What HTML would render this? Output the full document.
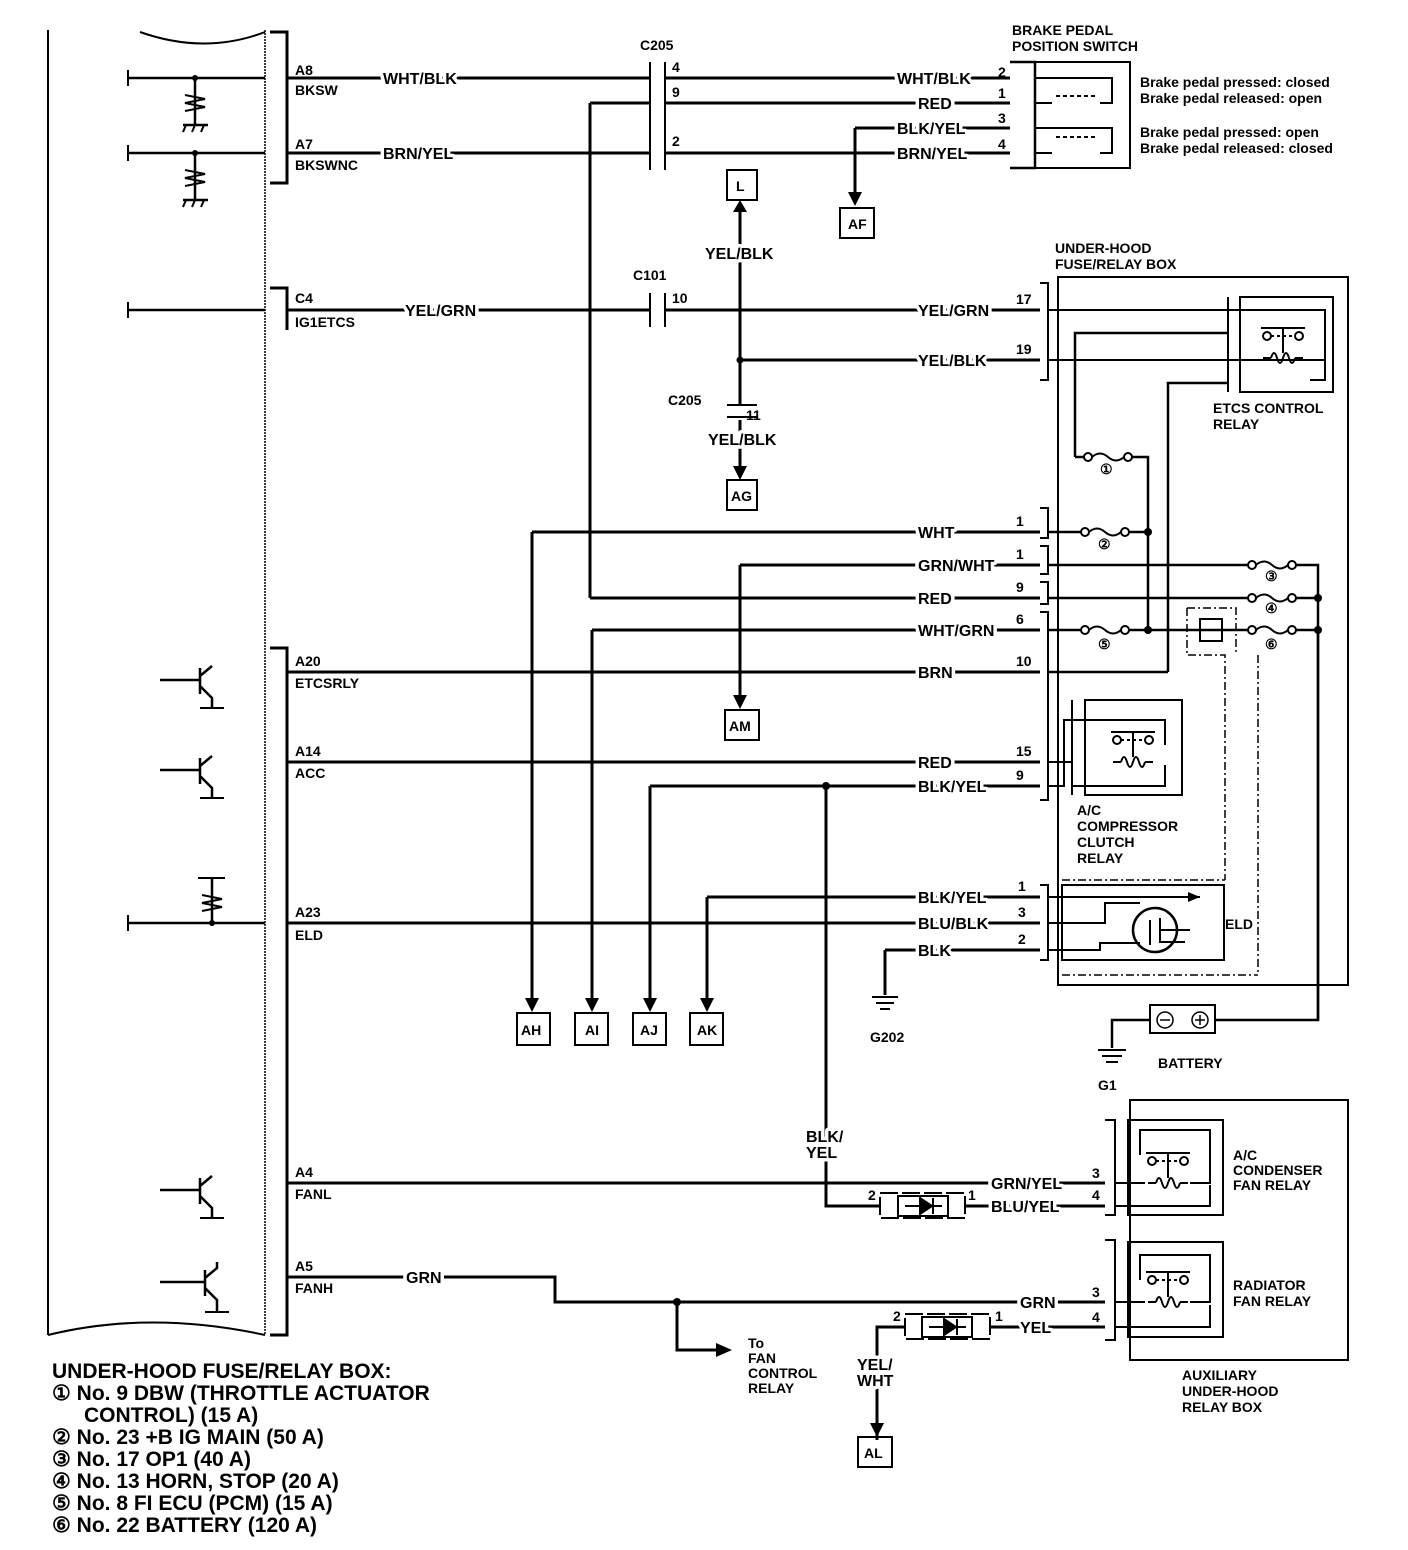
<!DOCTYPE html>
<html><head><meta charset="utf-8"><style>
html,body{margin:0;padding:0;background:#fff;}
svg{display:block;}
text{font-family:"Liberation Sans",sans-serif;font-weight:bold;fill:#000;}
.t{font-size:14px;}
.w text{font-size:16px;paint-order:stroke;stroke:#fff;stroke-width:7px;stroke-linejoin:round;}
.s{font-size:14px;}
.l{font-size:21px;}
</style></head><body>
<svg width="1408" height="1550" viewBox="0 0 1408 1550" xmlns="http://www.w3.org/2000/svg">
<defs>
<g id="fuse" fill="none" stroke="#000" stroke-width="2"><circle cx="0" cy="0" r="4" fill="#fff"/><circle cx="40" cy="0" r="4" fill="#fff"/><path d="M4 0 Q12 -7 20 0 Q28 7 36 0"/></g>
<g id="relay" fill="none" stroke="#000" stroke-width="2"><path d="M-22 -30 H22 M0 -30 V-5"/><circle cx="-16" cy="-22" r="4" fill="#fff"/><circle cx="16" cy="-22" r="4" fill="#fff"/><path d="M-12 -22 H12" stroke-dasharray="3 3"/><path d="M-20 0 H-12 M12 0 H20"/><path d="M-12 0 q3 -10 6 0 q3 10 6 0 q3 -10 6 0 q3 10 6 0"/></g>
</defs>
<g fill="none" stroke="#000" stroke-width="3">
<path d="M48 30 L48 1335" stroke-width="2"/>
<path d="M265 30 L265 1335" stroke-width="1.5" stroke-dasharray="2 1"/>
<path d="M140 32 Q205 55 265 32" stroke-width="2"/>
<path d="M48 1335 Q150 1310 265 1335" stroke-width="2"/>
<path d="M270 32 H287 V183 H270"/>
<path d="M270 288 H287 V330"/>
<path d="M270 648 H287 V1335 H270"/>
<path d="M128 78 H265 M128 153 H265 M128 310 H265" stroke-width="2.5"/>
<path d="M128 70 V86 M128 145 V161 M128 302 V318 M128 915 V931" stroke-width="2"/>
<path d="M195 78 V125 M195 153 V200" stroke-width="2.5"/>
<path d="M185 95 L205 99 L185 103 L205 107 L185 111 M185 170 L205 174 L185 178 L205 182 L185 186" stroke-width="2"/>
<path d="M183 125 H208 M183 200 H208" stroke-width="2.5"/>
<path d="M186 125 l-3 7 M195 125 l-3 7 M204 125 l-3 7 M186 200 l-3 7 M195 200 l-3 7 M204 200 l-3 7" stroke-width="2"/>
<path d="M160 680 H200 M200 668 V694 M200 676 L212 666 M200 686 L212 698 V708" stroke-width="2.5"/>
<path d="M160 770 H200 M200 758 V784 M200 766 L212 756 M200 776 L212 788 V798" stroke-width="2.5"/>
<path d="M160 1190 H200 M200 1178 V1204 M200 1186 L212 1176 M200 1196 L212 1208 V1218" stroke-width="2.5"/>
<path d="M160 1282 H205 M205 1270 V1296 M205 1278 L217 1268 V1262 M205 1288 L217 1300 V1312" stroke-width="2.5"/>
<path d="M200 708 H224 M200 798 H224 M200 1218 H224 M205 1312 H229" stroke-width="2"/>
<path d="M128 923 H265 M212 878 V923" stroke-width="2.5"/>
<path d="M198 878 H225 M202 895 L222 899 L202 903 L222 907 L202 911" stroke-width="2"/>
<path d="M287 78 H650 M665 78 H1010"/>
<path d="M590 103 H650 M665 103 H1010"/>
<path d="M287 153 H650 M665 153 H1010"/>
<path d="M855 128 H1010 M855 128 V200"/>
<path d="M590 103 V598"/>
<path d="M650 62 V170 M665 62 V170" stroke-width="2"/>
<path d="M287 310 H650 M665 310 H1040"/>
<path d="M650 293 V327 M665 293 V327" stroke-width="2"/>
<path d="M740 212 V405 M740 360 H1040"/>
<path d="M727 405 H757 M727 417 H757" stroke-width="2"/>
<path d="M740 420 V472"/>
<path d="M532 532 H1040 M532 532 V1002"/>
<path d="M740 565 H1040 M740 565 V700"/>
<path d="M590 598 H1040"/>
<path d="M592 630 H1040 M592 630 V1002"/>
<path d="M287 672 H1040"/>
<path d="M287 762 H1040"/>
<path d="M650 786 H1040 M650 786 V1002"/>
<path d="M826 786 V1206 H880 M965 1206 H1105"/>
<path d="M707 897 H1040 M707 897 V1002"/>
<path d="M287 923 H1040"/>
<path d="M885 950 H1040 M885 950 V995"/>
<path d="M287 1183 H1105"/>
<path d="M287 1277 H555 V1302 H1105"/>
<path d="M677 1302 V1350 H718"/>
<path d="M877 1440 V1327 H905 M990 1327 H1105"/>
<path d="M872 997 H898 M876 1003 H894 M880 1009 H890" stroke-width="2"/>
<path d="M1098 1050 H1126 M1102 1056 H1122 M1106 1062 H1118" stroke-width="2"/>
<path d="M1112 1048 V1020 H1150 M1215 1020 H1318 V628" stroke-width="2.5"/>
<path d="M1010 62 H1035 V168 H1010" stroke-width="2.5"/>
<path d="M1035 62 H1130 V168 H1035" stroke-width="2"/>
<path d="M1035 78 H1112 V103 H1100 M1035 103 H1052" stroke-width="2"/>
<path d="M1035 128 H1112 V153 H1100 M1035 153 H1052" stroke-width="2"/>
<path d="M1056 96 H1096 M1056 137 H1096" stroke-width="2" stroke-dasharray="4 3"/>
<rect x="727" y="170" width="30" height="30" stroke-width="2"/>
<rect x="840" y="208" width="34" height="30" stroke-width="2"/>
<rect x="727" y="480" width="30" height="30" stroke-width="2"/>
<rect x="725" y="710" width="34" height="30" stroke-width="2"/>
<rect x="517" y="1013" width="33" height="32" stroke-width="2"/>
<rect x="575" y="1013" width="33" height="32" stroke-width="2"/>
<rect x="633" y="1013" width="33" height="32" stroke-width="2"/>
<rect x="690" y="1013" width="33" height="32" stroke-width="2"/>
<rect x="858" y="1437" width="34" height="30" stroke-width="2"/>
<rect x="1058" y="277" width="290" height="708" stroke-width="2"/>
<path d="M1040 283 H1048 V380 H1040 M1040 508 H1048 V538 H1040 M1040 546 H1048 V574 H1040 M1040 582 H1048 V604 H1040 M1040 612 H1048 V800 H1040 M1040 885 H1048 V960 H1040" stroke-width="2"/>
<path d="M1048 310 H1325 V380 H1310 M1048 360 H1325" stroke-width="2"/>
<rect x="1240" y="297" width="93" height="95" stroke-width="2"/>
<path d="M1228 297 V392" stroke-width="2"/>
<path d="M1075 457 V333 H1228 M1075 457 H1090 M1130 457 H1148 V630" stroke-width="2.5"/>
<path d="M1168 672 H1048 M1168 672 V383 H1228" stroke-width="2.5"/>
<path d="M1048 532 H1085 M1125 532 H1148" stroke-width="2.5"/>
<path d="M1048 565 H1250 M1290 565 H1318 V1020" stroke-width="2.5"/>
<path d="M1048 598 H1250 M1290 598 H1318" stroke-width="2.5"/>
<path d="M1048 630 H1085 M1125 630 H1250 M1290 630 H1318" stroke-width="2.5"/>
<rect x="1200" y="619" width="22" height="22" stroke-width="2"/>
<path d="M1187 608 H1236 V655 M1187 608 V655 H1225 V880 M1258 655 V975" stroke-width="1.5" stroke-dasharray="8 3 2 3"/>
<path d="M1062 880 H1225 M1062 975 H1258" stroke-width="1.5" stroke-dasharray="8 3 2 3"/>
<rect x="1085" y="700" width="97" height="95" stroke-width="2"/>
<path d="M1072 700 V795" stroke-width="2"/>
<path d="M1048 762 H1072 M1048 786 H1064 V720 H1165 V745 M1072 786 H1165 V765" stroke-width="2"/>
<rect x="1062" y="885" width="162" height="75" stroke-width="2"/>
<path d="M1048 897 H1200 M1048 923 H1105 V903 H1140 M1048 950 H1100 V943 H1140" stroke-width="2"/>
<circle cx="1155" cy="930" r="22" stroke-width="2.5"/>
<path d="M1150 920 V945 M1160 918 V942 H1185 M1160 930 H1190" stroke-width="2"/>
<rect x="1150" y="1005" width="65" height="28" stroke-width="2"/>
<circle cx="1165" cy="1020" r="8" stroke-width="1.5"/>
<circle cx="1200" cy="1020" r="8" stroke-width="1.5"/>
<path d="M1160 1020 H1170 M1195 1020 H1205 M1200 1015 V1025" stroke-width="1.5"/>
<path d="M1130 1100 H1348 V1360 H1130 Z" stroke-width="2"/>
<path d="M1105 1120 H1115 V1215 H1105 M1105 1240 H1115 V1340 H1105" stroke-width="2"/>
<rect x="1128" y="1120" width="95" height="95" stroke-width="2"/>
<rect x="1128" y="1242" width="95" height="95" stroke-width="2"/>
<path d="M1115 1183 H1145 M1190 1183 H1210 V1130 H1140 V1155 M1115 1206 H1210 V1185" stroke-width="2"/>
<path d="M1115 1302 H1145 M1190 1302 H1210 V1255 H1140 V1280 M1115 1327 H1210 V1305" stroke-width="2"/>
<rect x="880" y="1193" width="85" height="25" stroke-width="2" stroke-dasharray="18 4"/>
<rect x="898" y="1196" width="50" height="20" stroke-width="2"/>
<path d="M905 1206 H942 M920 1198 V1214 L932 1206 Z M933 1198 V1214" stroke-width="2" fill="#000"/>
<rect x="905" y="1314" width="85" height="25" stroke-width="2" stroke-dasharray="18 4"/>
<rect x="922" y="1317" width="50" height="20" stroke-width="2"/>
<path d="M929 1327 H966 M944 1319 V1335 L956 1327 Z M957 1319 V1335" stroke-width="2" fill="#000"/>
</g>
<use href="#fuse" x="1088" y="457"/>
<use href="#fuse" x="1085" y="532"/>
<use href="#fuse" x="1085" y="630"/>
<use href="#fuse" x="1252" y="565"/>
<use href="#fuse" x="1252" y="598"/>
<use href="#fuse" x="1252" y="630"/>
<use href="#relay" x="1283" y="358"/>
<use href="#relay" x="1133" y="762"/>
<use href="#relay" x="1168" y="1183"/>
<use href="#relay" x="1168" y="1302"/>
<g fill="#000">
<path d="M733 212 L747 212 L740 200 Z"/>
<path d="M848 192 L862 192 L855 206 Z"/>
<path d="M733 466 L747 466 L740 480 Z"/>
<path d="M733 695 L747 695 L740 709 Z"/>
<path d="M525 998 L539 998 L532 1012 Z"/>
<path d="M585 998 L599 998 L592 1012 Z"/>
<path d="M643 998 L657 998 L650 1012 Z"/>
<path d="M700 998 L714 998 L707 1012 Z"/>
<path d="M870 1423 L884 1423 L877 1437 Z"/>
<path d="M716 1343 L716 1357 L732 1350 Z"/>
<path d="M1188 892 L1200 897 L1188 902 Z"/>
<circle cx="740" cy="360" r="3.5"/><circle cx="826" cy="786" r="4"/><circle cx="677" cy="1302" r="4"/>
<circle cx="1148" cy="532" r="4"/><circle cx="1148" cy="630" r="4"/><circle cx="1318" cy="598" r="4"/><circle cx="1318" cy="630" r="4"/>
<circle cx="195" cy="78" r="3"/><circle cx="195" cy="153" r="3"/><circle cx="212" cy="923" r="3"/>
</g>
<g class="t">
<text x="295" y="75">A8</text><text x="295" y="95">BKSW</text>
<text x="295" y="149">A7</text><text x="295" y="170">BKSWNC</text>
<text x="295" y="303">C4</text><text x="295" y="327">IG1ETCS</text>
<text x="295" y="666">A20</text><text x="295" y="688">ETCSRLY</text>
<text x="295" y="756">A14</text><text x="295" y="778">ACC</text>
<text x="295" y="917">A23</text><text x="295" y="940">ELD</text>
<text x="295" y="1177">A4</text><text x="295" y="1199">FANL</text>
<text x="295" y="1271">A5</text><text x="295" y="1293">FANH</text>
<text x="640" y="50">C205</text>
<text x="633" y="280">C101</text>
<text x="668" y="405">C205</text>
<text x="672" y="72">4</text><text x="672" y="97">9</text><text x="672" y="146">2</text>
<text x="672" y="303">10</text><text x="746" y="420">11</text>
<text x="998" y="77">2</text><text x="998" y="98">1</text><text x="998" y="123">3</text><text x="998" y="149">4</text>
<text x="1012" y="35">BRAKE PEDAL</text><text x="1012" y="51">POSITION SWITCH</text>
<text x="1016" y="304">17</text><text x="1016" y="354">19</text>
<text x="1055" y="253">UNDER-HOOD</text><text x="1055" y="269">FUSE/RELAY BOX</text>
<text x="1213" y="413">ETCS CONTROL</text><text x="1213" y="429">RELAY</text>
<text x="1016" y="526">1</text><text x="1016" y="559">1</text><text x="1016" y="592">9</text><text x="1016" y="624">6</text>
<text x="1016" y="666">10</text><text x="1016" y="756">15</text><text x="1016" y="780">9</text>
<text x="1018" y="891">1</text><text x="1018" y="917">3</text><text x="1018" y="944">2</text>
<text x="1077" y="815">A/C</text><text x="1077" y="831">COMPRESSOR</text><text x="1077" y="847">CLUTCH</text><text x="1077" y="863">RELAY</text>
<text x="1225" y="929">ELD</text>
<text x="870" y="1042">G202</text><text x="1098" y="1090">G1</text><text x="1158" y="1068">BATTERY</text>
<text x="1092" y="1178">3</text><text x="1092" y="1200">4</text>
<text x="868" y="1200">2</text><text x="968" y="1200">1</text>
<text x="1092" y="1297">3</text><text x="1092" y="1322">4</text>
<text x="893" y="1321">2</text><text x="995" y="1321">1</text>
<text x="1233" y="1160">A/C</text><text x="1233" y="1175">CONDENSER</text><text x="1233" y="1190">FAN RELAY</text>
<text x="1233" y="1290">RADIATOR</text><text x="1233" y="1306">FAN RELAY</text>
<text x="1182" y="1380">AUXILIARY</text><text x="1182" y="1396">UNDER-HOOD</text><text x="1182" y="1412">RELAY BOX</text>
<text x="748" y="1348">To</text><text x="748" y="1363">FAN</text><text x="748" y="1378">CONTROL</text><text x="748" y="1393">RELAY</text>
<text x="736" y="191">L</text><text x="848" y="229">AF</text><text x="731" y="501">AG</text><text x="729" y="731">AM</text>
<text x="521" y="1035">AH</text><text x="585" y="1035">AI</text><text x="640" y="1035">AJ</text><text x="697" y="1035">AK</text><text x="864" y="1458">AL</text>
</g>
<g class="w">
<text x="383" y="84">WHT/BLK</text>
<text x="383" y="159">BRN/YEL</text>
<text x="405" y="316">YEL/GRN</text>
<text x="406" y="1283">GRN</text>
<text x="705" y="259">YEL/BLK</text><text x="708" y="445">YEL/BLK</text>
<text x="897" y="84">WHT/BLK</text><text x="918" y="109">RED</text>
<text x="897" y="134">BLK/YEL</text><text x="897" y="159">BRN/YEL</text>
<text x="918" y="316">YEL/GRN</text><text x="918" y="366">YEL/BLK</text>
<text x="918" y="538">WHT</text><text x="918" y="571">GRN/WHT</text><text x="918" y="604">RED</text>
<text x="918" y="636">WHT/GRN</text><text x="918" y="678">BRN</text>
<text x="918" y="768">RED</text><text x="918" y="792">BLK/YEL</text>
<text x="918" y="903">BLK/YEL</text><text x="918" y="929">BLU/BLK</text><text x="918" y="956">BLK</text>
<text x="806" y="1142">BLK/</text><text x="806" y="1158">YEL</text>
<text x="991" y="1189">GRN/YEL</text><text x="991" y="1212">BLU/YEL</text>
<text x="1020" y="1308">GRN</text><text x="1020" y="1333">YEL</text>
<text x="857" y="1370">YEL/</text><text x="857" y="1386">WHT</text>
</g>
<g class="s">
<text x="1140" y="87">Brake pedal pressed: closed</text><text x="1140" y="103">Brake pedal released: open</text>
<text x="1140" y="137">Brake pedal pressed: open</text><text x="1140" y="153">Brake pedal released: closed</text>
<text x="1100" y="474">①</text><text x="1098" y="549">②</text><text x="1265" y="581">③</text><text x="1265" y="613">④</text>
<text x="1098" y="649">⑤</text><text x="1265" y="649">⑥</text>
</g>
<g class="l">
<text x="52" y="1378">UNDER-HOOD FUSE/RELAY BOX:</text>
<text x="52" y="1400">① No. 9 DBW (THROTTLE ACTUATOR</text>
<text x="84" y="1422">CONTROL) (15 A)</text>
<text x="52" y="1444">② No. 23 +B IG MAIN (50 A)</text>
<text x="52" y="1466">③ No. 17 OP1 (40 A)</text>
<text x="52" y="1488">④ No. 13 HORN, STOP (20 A)</text>
<text x="52" y="1510">⑤ No. 8 FI ECU (PCM) (15 A)</text>
<text x="52" y="1532">⑥ No. 22 BATTERY (120 A)</text>
</g>
</svg>
</body></html>
